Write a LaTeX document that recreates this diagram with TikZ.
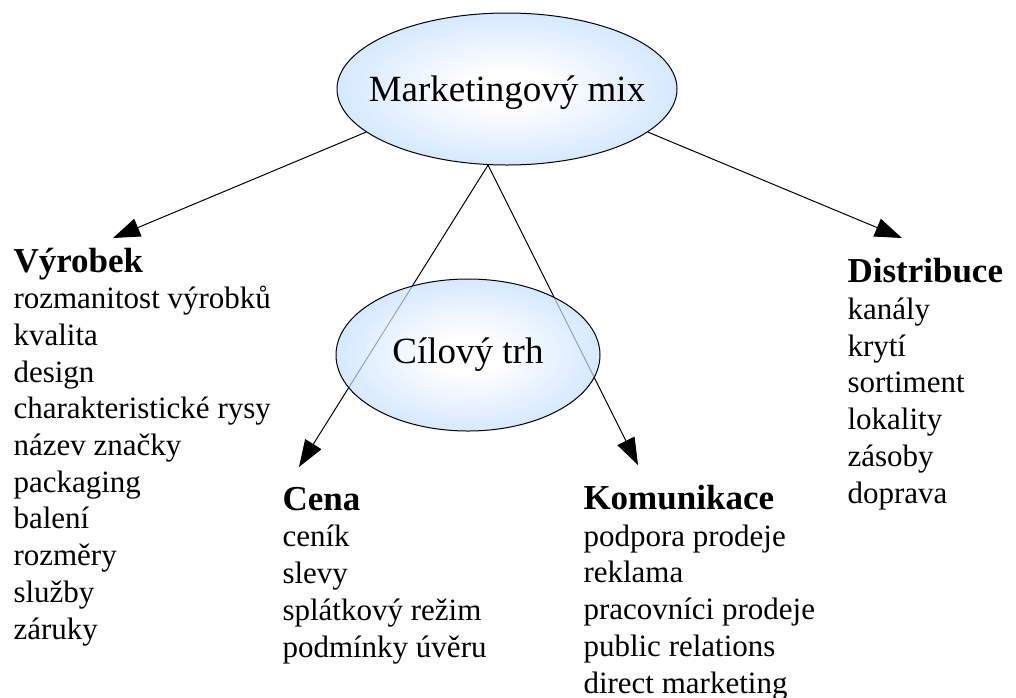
\documentclass[tikz,border=0pt]{standalone}
\usepackage{fontspec}
\setmainfont{Liberation Serif}
\usetikzlibrary{shapes, arrows.meta, positioning}
\definecolor{ellblue}{RGB}{119,184,255}
\pgfdeclareradialshading{ellshade}{\pgfpoint{0bp}{0bp}}{color(0bp)=(white); color(6bp)=(white); color(50bp)=(ellblue)}
\newcommand{\headfont}{\fontsize{35}{36.7}\selectfont\bfseries}

\begin{document}
\begin{tikzpicture} [-> , >= {Triangle[length = 27pt, width = 19pt]}, line width = 1pt, x = 1pt, y = -1pt,
  ell/.style = {draw, ellipse, shading = ellshade, fill opacity = 0.7, inner sep = 0pt, minimum height = 152pt},
  col/.style = {align = left, inner sep = 0pt, font = \fontsize{31}{36.7}\selectfont},
  every label/.style = {font = \fontsize{37}{40}\selectfont}]

\useasboundingbox (0,0) rectangle (1016,697);
\fill [white] (0,0) rectangle (1016,697);

\node [ell, minimum width = 340pt, label = {[yshift = -4pt]center:Marketingový mix}] (mix) at (507,89) {};

\coordinate (tipV) at (113,238);
\coordinate (tipD) at (902,238);
\coordinate (tipC) at (299,467);
\coordinate (tipK) at (638,465);

\draw (mix.197) -- (tipV);
\draw (mix.343) -- (tipD);
\draw (mix.256) -- (tipC);
\draw (mix.256) -- (tipK);

\node [ell, minimum width = 264pt, label = center:{Cílový trh}, below = 113pt of mix, xshift = -39pt] (cil) {};

% the base anchor sits on the last line of each list
\node [col, anchor = base west] (vyrobek) at (13,639) {{\headfont Výrobek}\\ rozmanitost výrobků\\ kvalita\\ design\\ charakteristické rysy\\ název značky\\ packaging\\ balení\\ rozměry\\ služby\\ záruky};
\node [col, anchor = base west] (distribuce) at (847,503) {{\headfont Distribuce}\\ kanály\\ krytí\\ sortiment\\ lokality\\ zásoby\\ doprava};
\node [col, anchor = base west] (cena) at (282,657) {{\headfont Cena}\\ ceník\\ slevy\\ splátkový režim\\ podmínky úvěru};
\node [col, anchor = base west] (komunikace) at (583,693) {{\headfont Komunikace}\\ podpora prodeje\\ reklama\\ pracovníci prodeje\\ public relations\\ direct marketing};

\end{tikzpicture}
\end{document}
